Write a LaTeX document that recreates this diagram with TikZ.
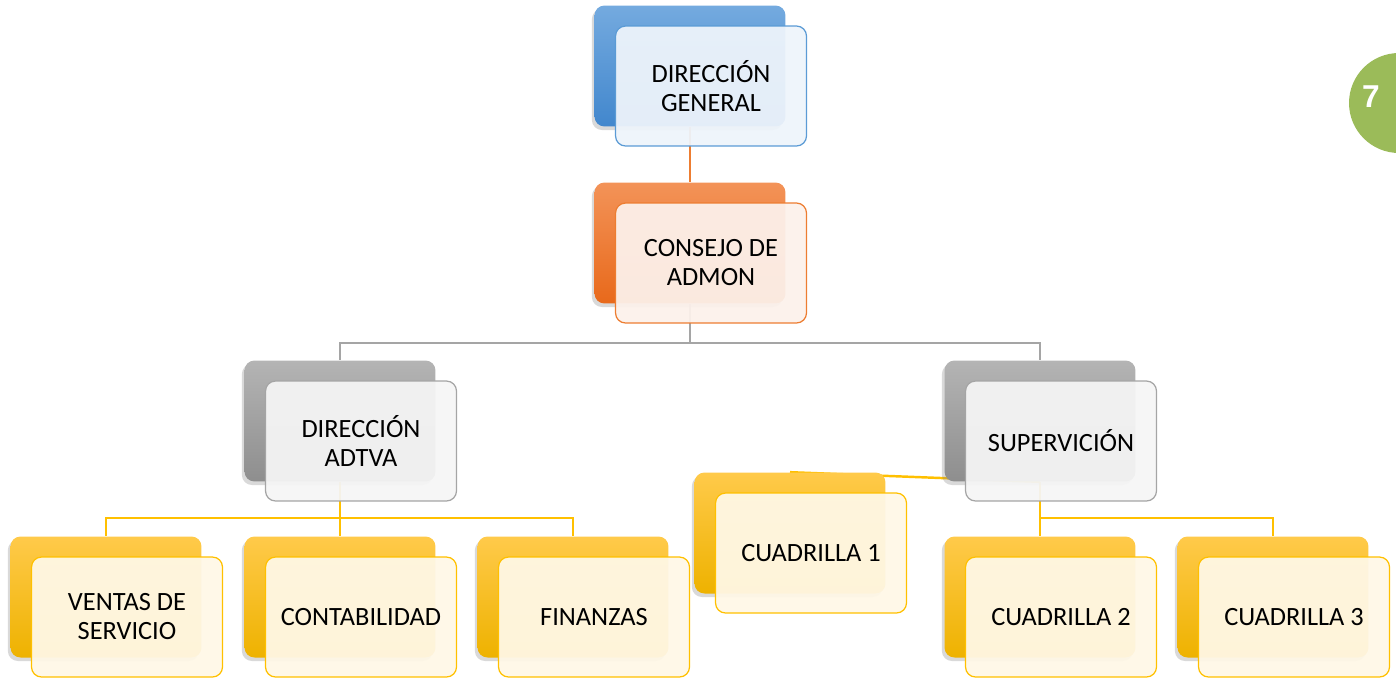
\documentclass[tikz,border=0pt]{standalone}
\usepackage{fontspec}
\setmainfont{Carlito}
\newfontfamily\numfont{Liberation Sans}
\usepackage{xcolor}
\usepackage{tikz}
\usetikzlibrary{positioning, calc, backgrounds, shadows}

\definecolor{azultop}{HTML}{74AADF}
\definecolor{azulbot}{HTML}{4287CD}
\definecolor{azulfill}{HTML}{EEF4FB}
\definecolor{azulline}{HTML}{5B9BD5}
\definecolor{naranjatop}{HTML}{F39358}
\definecolor{naranjabot}{HTML}{E8691B}
\definecolor{naranjafill}{HTML}{FCF1EB}
\definecolor{naranjaline}{HTML}{ED7D31}
\definecolor{gristop}{HTML}{B4B4B4}
\definecolor{grisbot}{HTML}{8E8E8E}
\definecolor{grisfill}{HTML}{F5F5F5}
\definecolor{grisline}{HTML}{A5A5A5}
\definecolor{amarillotop}{HTML}{FFCA4A}
\definecolor{amarillobot}{HTML}{EEB200}
\definecolor{amarillofill}{HTML}{FFF8E7}
\definecolor{amarilloline}{HTML}{FFC000}
\definecolor{verde}{HTML}{9BBB59}

\begin{document}
\begin{tikzpicture}[x=0.02cm, y=-0.02cm,
    atras/.style={rounded corners=0.2cm, minimum width=3.82cm, minimum height=2.42cm, inner sep=0pt,
      top color=#1top, bottom color=#1bot,
      drop shadow={opacity=0.3, shadow xshift=-1.5pt, shadow yshift=-2pt}},
    frente/.style={rounded corners=0.2cm, minimum width=3.82cm, minimum height=2.4cm, inner sep=0pt,
      draw=#1line, line width=0.7pt, fill=#1fill, fill opacity=0.94, text opacity=1,
      align=center, font=\fontsize{15}{16.5}\selectfont},
    linea/.style={draw=#1line, line width=1.4pt}]
  \useasboundingbox (0,0) rectangle (1396,677);

  \foreach \n/\x/\y/\c/\t in {dg/690/66/azul/{DIRECCIÓN\\GENERAL},
      cons/690/243/naranja/{CONSEJO DE\\ADMON},
      adm/340/421/gris/{DIRECCIÓN\\ADTVA},
      sup/1040/421/gris/{SUPERVICIÓN},
      cu1/790/533/amarillo/{CUADRILLA 1},
      ven/106/597/amarillo/{VENTAS DE\\SERVICIO},
      cont/340/597/amarillo/{CONTABILIDAD},
      fin/573/597/amarillo/{FINANZAS},
      cu2/1040/597/amarillo/{CUADRILLA 2},
      cu3/1273/597/amarillo/{CUADRILLA 3}} {
    \node[atras=\c] (\n-b) at (\x,\y) {};
    \node[frente=\c] (\n) at ($(\n-b)+(21,20)$) {\t};
  }

  \begin{scope}[on background layer]
    \draw[linea=naranja] (dg-b.south) -- (cons-b.north);
    \draw[linea=gris] (cons-b.south) -- ++(0,39) -| (adm-b.north);
    \draw[linea=gris] (cons-b.south) -- ++(0,39) -| (sup-b.north);
    \foreach \h in {ven, cont, fin}
      \draw[linea=amarillo] (adm-b.south) -- ++(0,36) -| (\h-b.north);
    \foreach \h in {cu2, cu3}
      \draw[linea=amarillo] (sup-b.south) -- ++(0,36) -| (\h-b.north);
    \draw[linea=amarillo] (sup-b.south) -- (cu1-b.north);
  \end{scope}

  % numero de pagina
  \node[circle, fill=verde, minimum size=2cm, inner sep=0pt] (pag) at (1399,103) {};
  \node[text=white, font=\numfont\bfseries\fontsize{18}{20}\selectfont] (num) at (1371,97) {7};
\end{tikzpicture}
\end{document}
